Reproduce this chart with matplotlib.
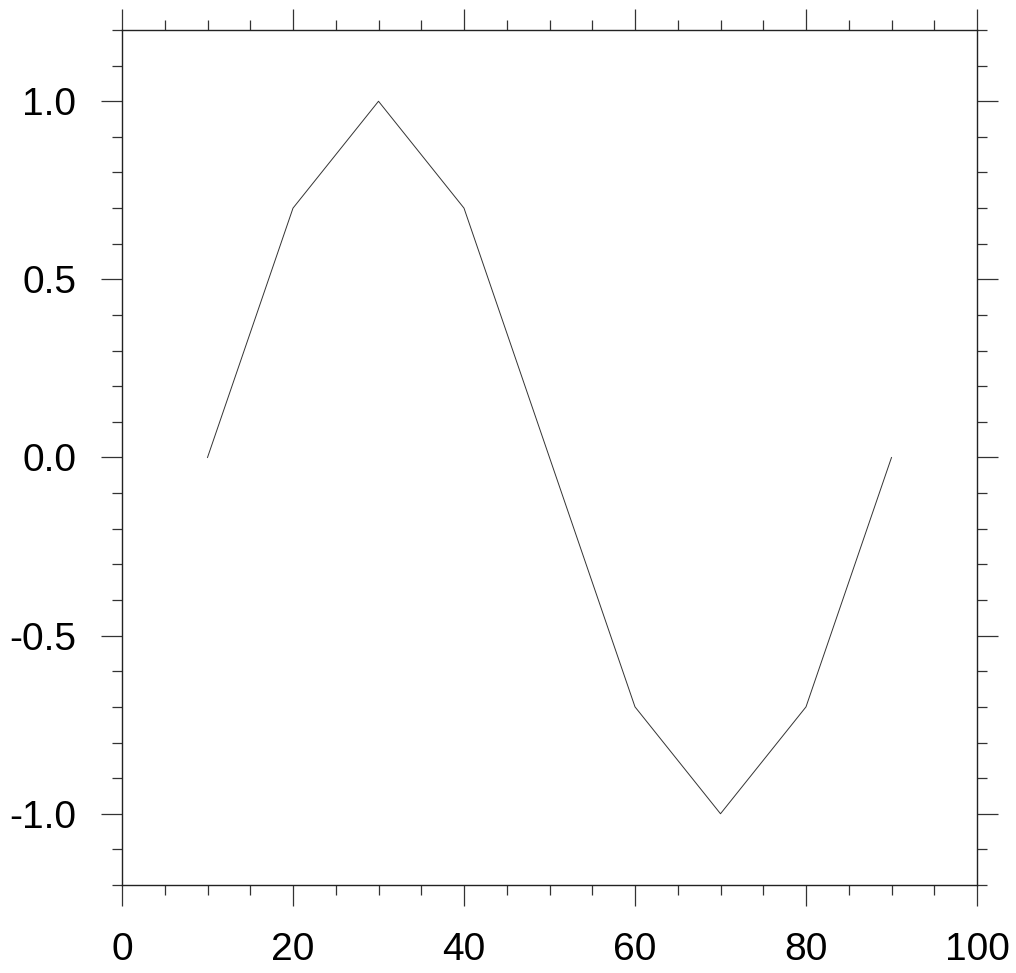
import matplotlib
matplotlib.use('Agg')
import matplotlib.pyplot as plt
from matplotlib.ticker import MultipleLocator

# data
x = [10, 20, 30, 40, 50, 60, 70, 80, 90]
y = [0.0, 0.7, 1.0, 0.7, 0.0, -0.7, -1.0, -0.7, 0.0]

xticks = [0, 20, 40, 60, 80, 100]
yticks = [-1.0, -0.5, 0.0, 0.5, 1.0]
ytick_labels = ['-1.0', '-0.5', '0.0', '0.5', '1.0']

plt.rcParams['font.family'] = ['Liberation Sans', 'DejaVu Sans']

fig = plt.figure(figsize=(10.16, 9.73), dpi=100)
ax = fig.add_axes([122/1016, 1 - 885/973, (977-122)/1016, (885-30)/973])

ax.plot(x, y, color='#333333', lw=0.7)

ax.set_xlim(0, 100)
ax.set_ylim(-1.2, 1.2)
ax.set_xticks(xticks)
ax.set_xticklabels([str(v) for v in xticks])
ax.set_yticks(yticks)
ax.set_yticklabels(ytick_labels)
ax.xaxis.set_minor_locator(MultipleLocator(5))
ax.yaxis.set_minor_locator(MultipleLocator(0.1))

for s in ax.spines.values():
    s.set_linewidth(1.0)
    s.set_color('#222222')

ax.tick_params(which='both', direction='out', top=True, right=True,
               color='#333333', width=0.9)
ax.tick_params(which='major', length=15, labelsize=28)
ax.tick_params(axis='x', which='major', pad=19)
ax.tick_params(axis='y', which='major', pad=18)
ax.tick_params(which='minor', length=7.5)
ax.tick_params(top=True, right=True, labeltop=False, labelright=False)

fig.savefig('out.png', dpi=100)
